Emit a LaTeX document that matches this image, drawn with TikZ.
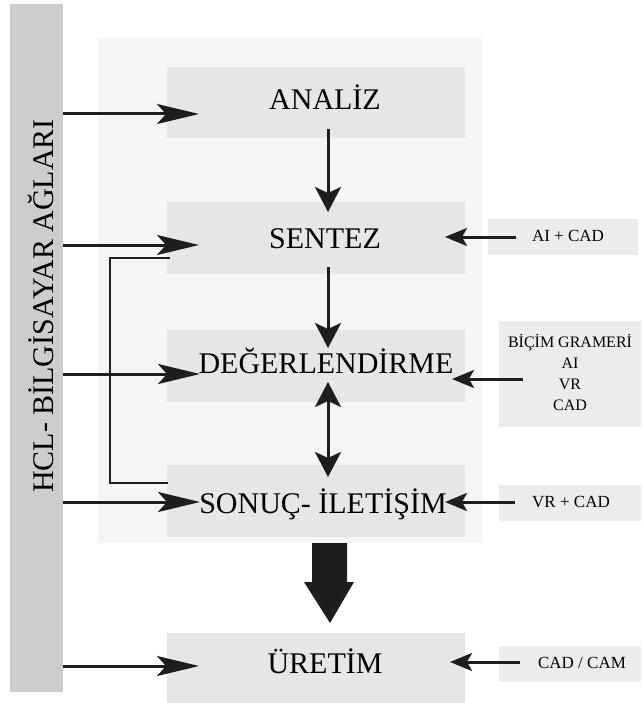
\documentclass[tikz,border=0pt]{standalone}
\usepackage{fontspec}
\setmainfont{Liberation Serif}
\usetikzlibrary{arrows.meta,calc}
\definecolor{barc}{HTML}{CDCDCD}
\definecolor{panelc}{HTML}{F5F5F5}
\definecolor{boxc}{HTML}{E6E6E6}
\definecolor{sidec}{HTML}{ECECEC}
\definecolor{ink}{HTML}{1E1E1E}
\begin{document}
\begin{tikzpicture}[x=1pt,y=-1pt,
  area/.style={draw=none,inner sep=0pt,outer sep=0pt,anchor=north west},
  mainbox/.style={area,fill=boxc,minimum width=298pt,minimum height=71pt},
  sidebox/.style={area,fill=sidec},
  maintext/.style={inner sep=0pt,anchor=base,text=black,font=\fontsize{30}{36}\selectfont},
  sidetext/.style={inner sep=0pt,anchor=base,text=black,font=\fontsize{17}{21}\selectfont},
  leftarr/.style={draw=ink,line width=3pt,-{Stealth[length=42pt,width=20pt,inset=9pt]}},
  vertarr/.style={draw=ink,line width=3pt,-{Stealth[length=25pt,width=26pt,inset=6pt]}},
  dblarr/.style={draw=ink,line width=3pt,{Stealth[length=25pt,width=26pt,inset=6pt]}-{Stealth[length=25pt,width=26pt,inset=6pt]}},
  rightarr/.style={draw=ink,line width=3pt,-{Stealth[length=22pt,width=18pt,inset=5pt]}},
  bracketline/.style={draw=ink,line width=2.2pt}
]
\useasboundingbox (0,0) rectangle (641,703);
% panel and bar
\node[area,fill=panelc,minimum width=384pt,minimum height=505pt] (panel) at (98,38) {};
\node[area,fill=barc,minimum width=53pt,minimum height=688pt] (bar) at (10,4) {};
\node[inner sep=0pt,anchor=base,rotate=90,font=\fontsize{30}{36}\selectfont] (barT) at (53,306) {HCL- BİLGİSAYAR AĞLARI};
% main boxes
\node[mainbox] (anaB) at (167,67) {};
\node[mainbox,minimum height=72pt] (senB) at (167,202) {};
\node[mainbox,minimum height=72pt] (degB) at (167,330) {};
\node[mainbox,minimum height=72pt] (sonB) at (167,465) {};
\node[mainbox,minimum height=70pt] (uretB) at (167,633) {};
\node[maintext] (anaT) at (325,110) {ANALİZ};
\node[maintext] (senT) at (325,248) {SENTEZ};
\node[maintext] (degT) at (326,373) {DEĞERLENDİRME};
\node[maintext] (sonT) at (323,513) {SONUÇ- İLETİŞİM};
\node[maintext] (uretT) at (325,673) {ÜRETİM};
% side boxes
\node[sidebox,minimum width=150pt,minimum height=36pt] (aiB) at (488,219) {};
\node[sidebox,minimum width=142pt,minimum height=106pt] (bicB) at (499,321) {};
\node[sidebox,minimum width=142pt,minimum height=36pt] (vrB) at (499,485) {};
\node[sidebox,minimum width=142pt,minimum height=36pt] (camB) at (499,646) {};
\node[sidetext] (aiT) at (568,241) {AI + CAD};
\node[sidetext,align=center,font=\fontsize{16}{21}\selectfont] (bicT) at (570,410) {BİÇİM GRAMERİ\\AI\\VR\\CAD};
\node[sidetext] (vrT) at (571,507) {VR + CAD};
\node[sidetext] (camT) at (582,668) {CAD / CAM};
% coordinates for connectors
\coordinate (inA) at (199,114);
\coordinate (inS) at (199,245);
\coordinate (inD) at (200,374);
\coordinate (inSo) at (200,502);
\coordinate (inU) at (199,666);
\coordinate (v1a) at (328,129); \coordinate (v1b) at (328,212);
\coordinate (v2a) at (328,267); \coordinate (v2b) at (328,348);
\coordinate (v3a) at (328,382); \coordinate (v3b) at (328,477);
\coordinate (rAs) at (516,237); \coordinate (rAe) at (445,237);
\coordinate (rBs) at (523,379); \coordinate (rBe) at (452,379);
\coordinate (rVs) at (515,502); \coordinate (rVe) at (445,502);
\coordinate (rCs) at (520,662); \coordinate (rCe) at (450,662);
\coordinate (brA) at (170,258); \coordinate (brB) at (168,483);
% left arrows
\draw[leftarr] (bar.east |- inA) -- (inA);
\draw[leftarr] (bar.east |- inS) -- (inS);
\draw[leftarr] (bar.east |- inD) -- (inD);
\draw[leftarr] (bar.east |- inSo) -- (inSo);
\draw[leftarr] (bar.east |- inU) -- (inU);
% bracket
\draw[bracketline] (brA) -- (110,258) -- (110,483) -- (brB);
% vertical arrows
\draw[vertarr] (v1a) -- (v1b);
\draw[vertarr] (v2a) -- (v2b);
\draw[dblarr] (v3a) -- (v3b);
% right arrows
\draw[rightarr] (rAs) -- (rAe);
\draw[rightarr] (rBs) -- (rBe);
\draw[rightarr] (rVs) -- (rVe);
\draw[rightarr] (rCs) -- (rCe);
% big arrow
\fill[ink] (312,543) -- (347,543) -- (347,582) -- (354,582) -- (330,623) -- (304,582) -- (312,582) -- cycle;
\end{tikzpicture}
\end{document}
